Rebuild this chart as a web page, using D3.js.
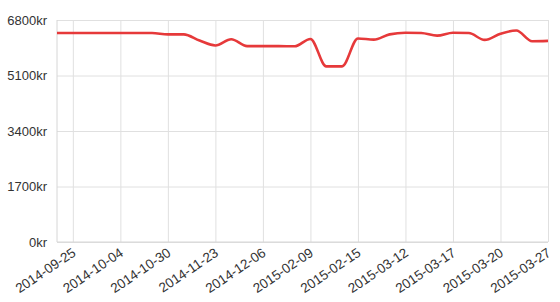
<!DOCTYPE html>
<html>
<head>
<meta charset="utf-8">
<script src="https://cdn.jsdelivr.net/npm/d3@7"></script>
<style>
  body { margin: 0; background: #fff; }
  svg { display: block; font-family: "Liberation Sans", Arial, sans-serif; }
</style>
</head>
<body>
<svg id="chart" width="560" height="302"></svg>
<script>
// Price per data point (kr), one point per category index
const values = [
    6400, 6400, 6400, 6400, 6400, 6400, 6400, 6360, 6360, 6170,
    6020, 6210, 6000, 6000, 6000, 5995, 6220, 5380, 5380, 6235,
    6200, 6360, 6410, 6400, 6320, 6410, 6400, 6190, 6380, 6480,
    6150, 6160
];

// Visible x labels and the point index each sits on
const xTickLabels = [
    '2014-09-25', '2014-10-04', '2014-10-30', '2014-11-23', '2014-12-06',
    '2015-02-09', '2015-02-15', '2015-03-12', '2015-03-17', '2015-03-20',
    '2015-03-27'
];
const xTickIndex = [1, 4, 7, 10, 13, 16, 19, 22, 25, 28, 31];

const yTicks = [0, 1700, 3400, 5100, 6800];

const margin = { top: 20, right: 12, bottom: 60, left: 57 };
const width = 560, height = 302;
const innerW = width - margin.left - margin.right;
const innerH = height - margin.top - margin.bottom;

const svg = d3.select('#chart');
const g = svg.append('g').attr('transform', `translate(${margin.left},${margin.top})`);

const x = d3.scaleLinear().domain([0, values.length - 1]).range([0, innerW]);
const y = d3.scaleLinear().domain([0, 6800]).range([innerH, 0]);

// horizontal grid + y labels
const yAxis = g.append('g')
    .call(d3.axisLeft(y).tickValues(yTicks).tickSize(-innerW).tickPadding(10)
        .tickFormat(d => d + 'kr'));
yAxis.select('.domain').remove();
yAxis.selectAll('line').attr('stroke', '#e0e0e0').attr('stroke-width', 1);
yAxis.selectAll('text').attr('fill', '#333').attr('font-size', 13);

// vertical grid + rotated x labels
const xAxis = g.append('g')
    .attr('transform', `translate(0,${innerH})`)
    .call(d3.axisBottom(x).tickValues(xTickIndex).tickSize(-innerH)
        .tickFormat((d, i) => xTickLabels[i]));
xAxis.select('.domain').remove();
xAxis.selectAll('line').attr('stroke', '#e0e0e0').attr('stroke-width', 1);
xAxis.selectAll('text')
    .attr('fill', '#333')
    .attr('font-size', 13.5)
    .attr('text-anchor', 'end')
    .attr('x', -4.5)
    .attr('y', 12.6)
    .attr('dy', 0)
    .attr('transform', 'rotate(-34)');

// axis border lines
g.append('line')
    .attr('x1', 0).attr('x2', 0).attr('y1', 0).attr('y2', innerH)
    .attr('stroke', '#d6d6d6');
g.append('line')
    .attr('x1', 0).attr('x2', innerW).attr('y1', innerH).attr('y2', innerH)
    .attr('stroke', '#d6d6d6');

// data line
const line = d3.line()
    .x((d, i) => x(i))
    .y(d => y(d))
    .curve(d3.curveMonotoneX);

g.append('path')
    .datum(values)
    .attr('fill', 'none')
    .attr('stroke', '#e6393a')
    .attr('stroke-width', 2.6)
    .attr('stroke-linejoin', 'round')
    .attr('d', line);
</script>
</body>
</html>
